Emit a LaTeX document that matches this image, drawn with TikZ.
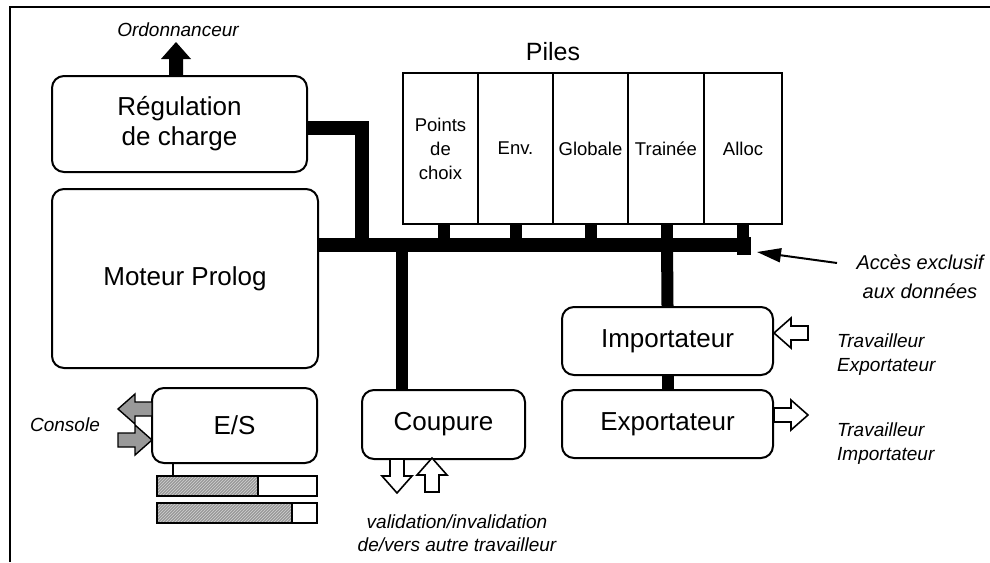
\documentclass[tikz,border=0pt]{standalone}
\usepackage{fontspec}
\setmainfont{Liberation Sans}
\usetikzlibrary{arrows.meta,patterns}
\begin{document}
\begin{tikzpicture}[x=1pt,y=-1pt,
  box/.style={draw,line width=2pt,rounded corners=12pt,align=center,
    font=\fontsize{26}{30}\selectfont,inner sep=0pt},
  cell/.style={draw,line width=1.6pt,minimum height=151pt,align=center,
    font=\fontsize{18.5}{24}\selectfont,inner sep=0pt},
  lbl/.style={font=\fontsize{19}{24}\itshape\selectfont,align=center,inner sep=0pt},
  bus/.style={line width=14pt},
  post/.style={line width=12pt},
  harrow/.pic={\path[pic actions] (0,-7) -- (17,-7) -- (17,-15) -- (34,0) -- (17,15) -- (17,7) -- (0,7) -- cycle;},
  hollow/.style={draw,line width=1.6pt,fill=white},
  hatched/.style={draw,line width=1.4pt,fill=gray!80,postaction={pattern=north east lines,pattern color=gray!35}}
]
\useasboundingbox (0,0) rectangle (990,562);
% frame
\draw[line width=2pt] (10,562) -- (10,7) -- (990,7);

% boxes
\node[box,minimum width=255pt,minimum height=96pt] (reg) at (179.5,124) {Régulation\\de charge};
\node[box,minimum width=266pt,minimum height=179pt] (mot) at (185,278.5) {Moteur Prolog};
\node[box,minimum width=165pt,minimum height=75pt] (es) at (234.5,425.5) {E/S};
\node[box,minimum width=163pt,minimum height=69pt] (coup) at (443.5,424.5) {Coupure};
\node[box,minimum width=211pt,minimum height=68pt] (imp) at (667.5,341) {Importateur};
\node[box,minimum width=211pt,minimum height=68pt] (exp) at (667.5,424) {Exportateur};

% piles
\node[cell,minimum width=75pt] (c1) at (440.5,148.5) {Points\\de\\choix};
\node[cell,minimum width=75pt] (c2) at (515.5,148.5) {Env.};
\node[cell,minimum width=75pt] (c3) at (590.5,148.5) {Globale};
\node[cell,minimum width=76pt] (c4) at (666,148.5) {Trainée};
\node[cell,minimum width=78pt] (c5) at (743,148.5) {Alloc};
\node[font=\fontsize{25}{28}\selectfont,inner sep=0pt] (piles) at (553,52) {Piles};

% bus
\coordinate (busL) at (318,244.5);
\coordinate (busR) at (750,244.5);
\coordinate (bend) at (362,128);
\draw[bus] (reg.east |- bend) -- (bend) -- (bend |- busL);
\draw[bus] (busL) -- (busR);
\fill (737,237) rectangle (751,255);
\foreach \c/\x in {c1/443.5,c2/515.5,c3/591,c4/666.5,c5/743}
  \draw[post] (\x,223) -- (\x,238);
\draw[post] (402,240) -- (coup.north -| 402,0);
\draw[post] (667,240) -- (imp.north);
\draw[post] (imp.south) -- (exp.north);

% access arrow
\node[lbl,font=\fontsize{20}{29}\itshape\selectfont] (acces) at (920,276.5) {Accès exclusif\\aux données};
\coordinate (acctail) at (837,263);
\draw[line width=2pt,-{Triangle[length=24pt,width=14pt]}] (acctail) -- (757,252);

% Ordonnanceur
\node[lbl] (ord) at (178,30) {Ordonnanceur};
\pic[rotate=90,fill=black] at (176,76) {harrow};

% Importateur / Exportateur arrows
\pic[rotate=180,hollow] at (808,333) {harrow};
\pic[hollow] at (774,415) {harrow};
\node[lbl,align=left,anchor=west] (te) at (837,355) {Travailleur\\Exportateur};
\node[lbl,align=left,anchor=west] (ti) at (837,444) {Travailleur\\Importateur};

% Coupure arrows
\pic[rotate=-90,hollow] at (397,459) {harrow};
\pic[rotate=90,hollow] at (432,492) {harrow};
\node[lbl,font=\fontsize{19}{23}\itshape\selectfont] (valid) at (457,533.5) {validation/invalidation\\de/vers autre travailleur};

% E/S arrows
\pic[rotate=180,hatched] at (152,409) {harrow};
\pic[hatched] at (118,440) {harrow};
\node[lbl] (cons) at (65,425) {Console};

% buffers
\coordinate (tap) at (173,463);
\draw[line width=1.2pt] (tap) -- (173,476);
\fill[gray!80,postaction={pattern=north east lines,pattern color=gray!35}] (157,476) rectangle (258,496);
\draw[line width=1.6pt] (157,476) rectangle (317,496);
\fill[gray!80,postaction={pattern=north east lines,pattern color=gray!35}] (157,503) rectangle (292,523);
\draw[line width=1.6pt] (157,503) rectangle (317,523);
\draw[line width=1.2pt] (258,476) -- (258,496);
\draw[line width=1.2pt] (292,503) -- (292,523);
\end{tikzpicture}
\end{document}
